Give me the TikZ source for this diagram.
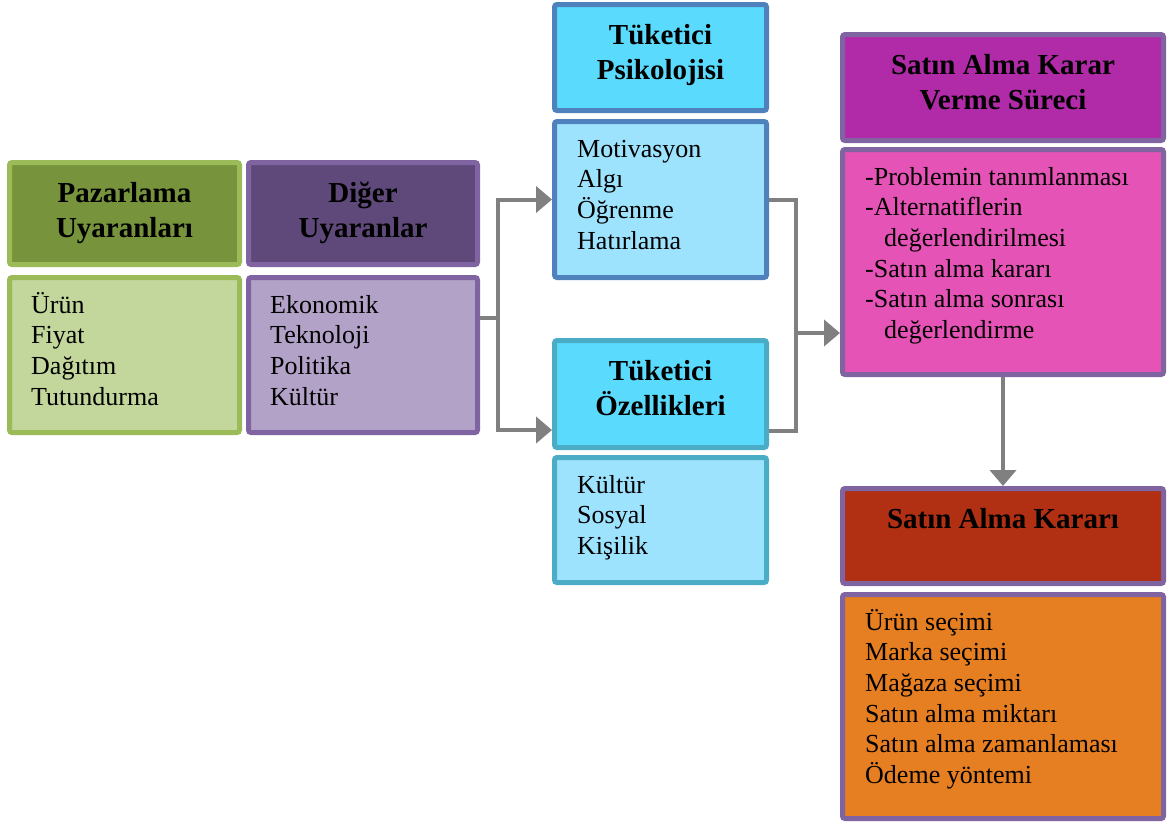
\documentclass[tikz,border=0pt]{standalone}
\usepackage{fontspec}
\setmainfont{Liberation Serif}
\usetikzlibrary{arrows.meta}
\definecolor{gHead}{HTML}{77933C}
\definecolor{gLine}{HTML}{9BBB59}
\definecolor{gBody}{HTML}{C3D69B}
\definecolor{pHead}{HTML}{5F497A}
\definecolor{pLine}{HTML}{8064A2}
\definecolor{pBody}{HTML}{B2A2C7}
\definecolor{cHead}{HTML}{5ADBFE}
\definecolor{cBody}{HTML}{9DE3FE}
\definecolor{bLine}{HTML}{4F81BD}
\definecolor{tLine}{HTML}{4BACC6}
\definecolor{mHead}{HTML}{B12AA8}
\definecolor{mBody}{HTML}{E453B5}
\definecolor{rHead}{HTML}{B12F12}
\definecolor{oBody}{HTML}{E67E22}
\definecolor{conn}{HTML}{808080}
\begin{document}
\begin{tikzpicture}[x=1pt,y=-1pt,
  bx/.style 2 args={fill=#1, draw=#2, line width=5pt, rounded corners=2.5pt, inner sep=0pt},
  htext/.style={anchor=north, inner sep=0pt, align=center, text height=20pt,
    font=\fontsize{29}{35}\selectfont\bfseries},
  btext/.style={anchor=north west, inner sep=0pt, align=left, text height=18pt,
    font=\fontsize{26}{30.6}\selectfont},
  cline/.style={draw=conn, line width=4pt},
  carrow/.style={cline, -{Triangle[length=16pt,width=26pt]}}]
\useasboundingbox (0,0) rectangle (1173,823);
% boxes
\node[bx={gHead}{gLine}, minimum width=230pt, minimum height=102pt] (pzh) at (124.5,213.5) {};
\node[bx={gBody}{gLine}, minimum width=230pt, minimum height=155pt] (pzb) at (124.5,355) {};
\node[bx={pHead}{pLine}, minimum width=229pt, minimum height=102pt] (dgh) at (363,213.5) {};
\node[bx={pBody}{pLine}, minimum width=229pt, minimum height=155pt] (dgb) at (363,355) {};
\node[bx={cHead}{bLine}, minimum width=212pt, minimum height=106pt] (tph) at (660.5,57.5) {};
\node[bx={cBody}{bLine}, minimum width=212pt, minimum height=156pt] (tpb) at (660.5,199.5) {};
\node[bx={cHead}{tLine}, minimum width=212pt, minimum height=107pt] (toh) at (660.5,394) {};
\node[bx={cBody}{tLine}, minimum width=212pt, minimum height=125pt] (tob) at (660.5,520) {};
\node[bx={mHead}{pLine}, minimum width=321pt, minimum height=106pt] (sh) at (1003,87.5) {};
\node[bx={mBody}{pLine}, minimum width=321pt, minimum height=225pt] (sb) at (1003,262) {};
\node[bx={rHead}{pLine}, minimum width=321pt, minimum height=95pt] (kh) at (1003,536) {};
\node[bx={oBody}{pLine}, minimum width=321pt, minimum height=224pt] (kb) at (1003,706.5) {};
% header texts (node top = last baseline - 20pt)
\node[htext] (pzht) at (124.5,217) {Pazarlama\\Uyaranları};
\node[htext] (dght) at (363,217) {Diğer\\Uyaranlar};
\node[htext] (tpht) at (660.5,59) {Tüketici\\Psikolojisi};
\node[htext] (toht) at (660.5,395) {Tüketici\\Özellikleri};
\node[htext] (sht) at (1003,89) {Satın Alma Karar\\Verme Süreci};
\node[htext] (kht) at (1003,508) {Satın Alma Kararı};
% body texts (node top = last baseline - 18pt)
\node[btext] (pzbt) at (31,386.8) {Ürün\\Fiyat\\Dağıtım\\Tutundurma};
\node[btext] (dgbt) at (270,386.8) {Ekonomik\\Teknoloji\\Politika\\Kültür};
\node[btext] (tpbt) at (577,230.8) {Motivasyon\\Algı\\Öğrenme\\Hatırlama};
\node[btext] (tobt) at (577,536.2) {Kültür\\Sosyal\\Kişilik};
\node[btext] (sbt) at (865,320) {-Problemin tanımlanması\\-Alternatiflerin\\\hspace*{19pt}değerlendirilmesi\\-Satın alma kararı\\-Satın alma sonrası\\\hspace*{19pt}değerlendirme};
\node[btext] (kbt) at (865,765) {Ürün seçimi\\Marka seçimi\\Mağaza seçimi\\Satın alma miktarı\\Satın alma zamanlaması\\Ödeme yöntemi};
% connectors
\coordinate (j1) at (498,318);
\coordinate (j2) at (498,430);
\coordinate (j3) at (796,333);
\coordinate (j4) at (796,431);
\draw[cline] (dgb.east |- j1) -- (j1);
\draw[carrow] (j1) |- (tpb.west);
\draw[carrow] (j1) -- (j2) -- (toh.west |- j2);
\draw[cline] (tpb.east) -| (j3);
\draw[cline] (toh.east |- j4) -| (j3);
\draw[carrow] (j3) -- (sb.west |- j3);
\draw[carrow] (sb.south) -- (kh.north);
\end{tikzpicture}
\end{document}
